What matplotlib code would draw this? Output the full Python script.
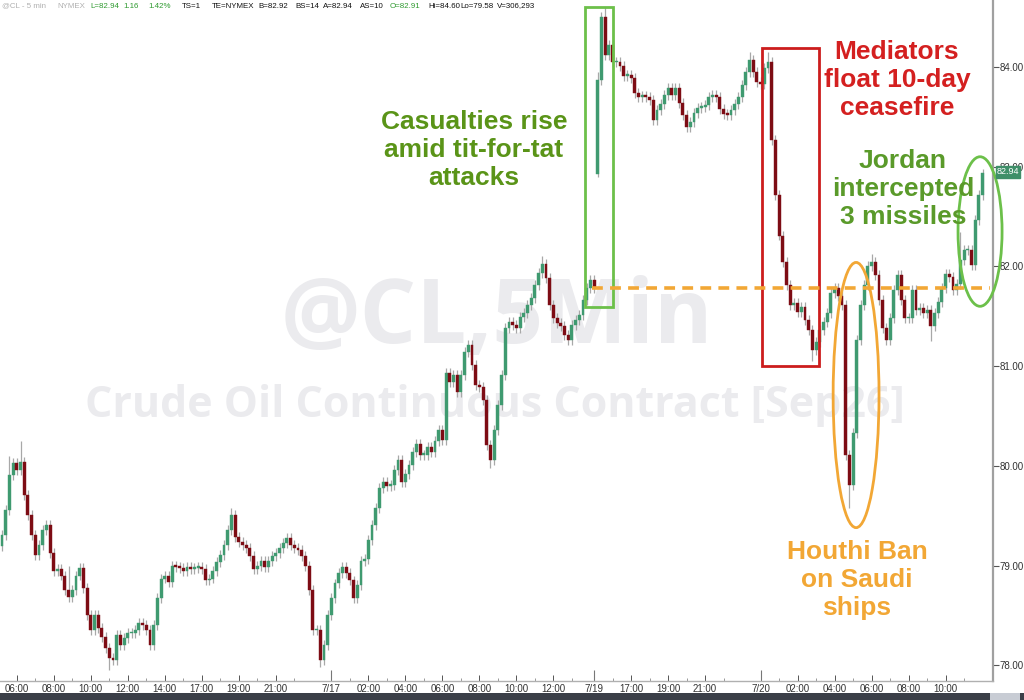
import matplotlib
matplotlib.use("Agg")
import matplotlib.pyplot as plt
from matplotlib.patches import Rectangle, Ellipse
import numpy as np

# ---------------- data ----------------
closes = [
    79.31, 79.56, 79.91, 80.03, 79.96, 80.04, 79.71, 79.51, 79.31, 79.11,
    79.21, 79.36, 79.41, 79.13, 78.95, 78.97, 78.90, 78.75, 78.68, 78.75,
    78.90, 78.98, 78.77, 78.50, 78.35, 78.50, 78.37, 78.28, 78.17, 78.07,
    78.05, 78.30, 78.20, 78.27, 78.32, 78.32, 78.35, 78.42, 78.40, 78.35,
    78.20, 78.40, 78.67, 78.87, 78.90, 78.83, 79.00, 78.99, 78.98, 78.95,
    78.99, 78.97, 78.98, 78.99, 78.97, 78.85, 78.87, 78.95, 79.04, 79.11,
    79.21, 79.36, 79.51, 79.29, 79.24, 79.21, 79.18, 79.10, 78.97, 79.00,
    79.05, 78.99, 79.05, 79.10, 79.13, 79.18, 79.23, 79.28, 79.21, 79.18,
    79.16, 79.10, 79.00, 78.75, 78.35, 78.35, 78.05, 78.20, 78.50, 78.67,
    78.82, 78.93, 78.99, 78.93, 78.85, 78.67, 78.80, 79.05, 79.07, 79.26,
    79.41, 79.58, 79.78, 79.84, 79.80, 79.81, 79.96, 80.06, 79.84, 79.92,
    80.01, 80.14, 80.22, 80.11, 80.11, 80.19, 80.14, 80.25, 80.36, 80.26,
    80.93, 80.84, 80.91, 80.74, 80.91, 81.14, 81.21, 81.01, 80.81, 80.79,
    80.66, 80.21, 80.06, 80.36, 80.61, 80.91, 81.38, 81.44, 81.41, 81.38,
    81.49, 81.53, 81.61, 81.68, 81.81, 81.93, 82.02, 81.88, 81.61, 81.48,
    81.43, 81.40, 81.31, 81.26, 81.41, 81.46, 81.51, 81.66, 81.78, 81.86,
    81.78, 83.87, 84.50, 84.12, 84.22, 84.05, 84.05, 84.01, 83.91, 83.92,
    83.89, 83.74, 83.70, 83.71, 83.70, 83.67, 83.47, 83.57, 83.63, 83.72,
    83.79, 83.72, 83.79, 83.64, 83.52, 83.40, 83.45, 83.54, 83.59, 83.60,
    83.62, 83.70, 83.72, 83.70, 83.58, 83.53, 83.52, 83.57, 83.63, 83.70,
    83.82, 83.95, 84.07, 83.95, 83.85, 83.83, 83.99, 84.05, 83.27, 82.72,
    82.31, 82.04, 81.81, 81.61, 81.63, 81.54, 81.59, 81.46, 81.36, 81.16,
    81.24, 81.36, 81.44, 81.53, 81.73, 81.78, 81.70, 81.61, 80.11, 79.81,
    80.33, 81.26, 81.61, 81.81, 82.00, 82.04, 81.91, 81.66, 81.38, 81.26,
    81.48, 81.76, 81.91, 81.66, 81.48, 81.48, 81.76, 81.56, 81.58, 81.53,
    81.56, 81.40, 81.53, 81.64, 81.78, 81.92, 81.89, 81.76, 81.82, 82.06,
    82.16, 82.16, 82.01, 82.47, 82.72, 82.94,
]
first_open = 79.20
gap_opens = {161: 82.93}               # session gap open on 7/19
wick_highs = {2: 80.10, 5: 80.25, 18: 79.00, 62: 79.58, 83: 79.05, 146: 82.10,
              161: 83.95, 163: 84.60, 202: 84.15, 207: 84.15, 235: 82.12,
              259: 82.35, 265: 82.98}
wick_lows = {29: 77.95, 86: 77.98, 132: 79.98, 161: 82.90, 219: 81.05,
             229: 79.58, 251: 81.25}
wick_pad = 0.05

tick_pos = [4, 14, 24, 34, 44, 54, 64, 74, 89, 99, 109, 119, 129, 139, 149,
            160, 170, 180, 190, 205, 215, 225, 235, 245, 255]
tick_lbl = ["06:00", "08:00", "10:00", "12:00", "14:00", "17:00", "19:00",
            "21:00", "7/17", "02:00", "04:00", "06:00", "08:00", "10:00",
            "12:00", "7/19", "17:00", "19:00", "21:00", "7/20", "02:00",
            "04:00", "06:00", "08:00", "10:00"]
day_ticks = [89, 160, 205]
y_ticks = [78, 79, 80, 81, 82, 83, 84]
last_price = 82.94
ref_level = 81.78

# ---------------- figure ----------------
W, H = 1024, 700
fig = plt.figure(figsize=(W / 100, H / 100), dpi=100)
fig.patch.set_facecolor("white")

def px2fx(x):
    return x / W

def py2fy(y):
    return 1 - y / H

ax = fig.add_axes([0, py2fy(681), px2fx(993), py2fy(0) - py2fy(681)])
ax.set_facecolor("white")

n = len(closes)
idx = np.arange(n)
opens = []
for i in range(n):
    if i in gap_opens:
        opens.append(gap_opens[i])
    elif i == 0:
        opens.append(first_open)
    else:
        opens.append(closes[i - 1])
opens = np.array(opens)
cl = np.array(closes)
hi = np.maximum(opens, cl) + wick_pad
lo = np.minimum(opens, cl) - wick_pad
for k, v in wick_highs.items():
    hi[k] = v
for k, v in wick_lows.items():
    lo[k] = v

up_col = "#3f9a70"
dn_col = "#7d0c14"
ax.vlines(idx, lo, hi, color="#a8a8a8", lw=0.9, zorder=2)
body_bot = np.minimum(opens, cl)
body_h = np.maximum(np.abs(cl - opens), 0.015)
cols = [up_col if c >= o else dn_col for o, c in zip(opens, cl)]
ax.bar(idx, body_h, bottom=body_bot, width=0.78, color=cols, edgecolor=cols,
       linewidth=0.3, zorder=3)

ax.set_xlim(-0.54, 267.8)
ax.set_ylim(77.842, 84.672)

# watermark (inside the axes, behind the candles)
wm = "#ebebee"
ax.text(px2fx(497), py2fy(320), "@CL,5Min", fontsize=64,
        color=wm, ha="center", va="center", fontweight="bold",
        family="Open Sans", transform=fig.transFigure, zorder=0.5)
ax.text(px2fx(495), py2fy(405), "Crude Oil Continuous Contract [Sep26]",
        fontsize=31, color=wm, ha="center", transform=fig.transFigure,
        va="center", fontweight="bold", family="Open Sans", zorder=0.5)

# annotations
ax.add_patch(Rectangle((157.6, 81.59), 7.5, 84.60 - 81.59, fill=False,
                       edgecolor="#6cc04a", lw=2, zorder=4))
ax.add_patch(Rectangle((205.4, 81.00), 15.4, 84.19 - 81.00, fill=False,
                       edgecolor="#cc1d1d", lw=2, zorder=4))
ax.add_patch(Ellipse((230.8, 80.71), 12.4, 2.66, fill=False,
                     edgecolor="#f2a735", lw=2, zorder=4))
ax.add_patch(Ellipse((264.3, 82.35), 11.9, 1.50, fill=False,
                     edgecolor="#6cc04a", lw=2, zorder=4, clip_on=False))
ax.hlines(ref_level, 159.5, 267.0, colors="#f2a735", linestyles=(0, (3, 2)),
          lw=2.6, zorder=4)

tf = dict(family="Liberation Sans", fontweight="bold", fontsize=19,
          ha="center", va="center", linespacing=1.22, zorder=5)
fig.text(px2fx(474), py2fy(150), "Casualties rise\namid tit-for-tat\nattacks",
         color="#5a9418", **tf)
fig.text(px2fx(897), py2fy(80), "Mediators\nfloat 10-day\nceasefire",
         color="#d42020", **tf)
fig.text(px2fx(903), py2fy(189), "Jordan\nintercepted\n3 missiles",
         color="#5a9a2a", **tf)
fig.text(px2fx(857), py2fy(580), "Houthi Ban\non Saudi\nships",
         color="#f2a735", **tf)

# axes styling
for s in ["top", "left"]:
    ax.spines[s].set_visible(False)
ax.spines["right"].set_color("#a0a0a0")
ax.spines["right"].set_linewidth(1.6)
ax.spines["bottom"].set_color("#b0b0b0")
ax.spines["bottom"].set_linewidth(1.0)
ax.yaxis.tick_right()
ax.set_yticks(y_ticks)
ax.set_yticklabels([f"{v:.2f}" for v in y_ticks])
ax.tick_params(axis="y", direction="out", length=4, width=0.8, colors="#555555",
               labelsize=7, pad=1)
ax.set_xticks(tick_pos)
ax.set_xticklabels(tick_lbl)
ax.set_xticks([p + 5 for p in tick_pos], minor=True)
ax.tick_params(axis="x", which="major", direction="in", length=4, width=0.7,
               colors="#555555", labelsize=7, pad=2)
ax.tick_params(axis="x", which="minor", direction="in", length=2, width=0.6,
               colors="#888888")
for lab in ax.get_xticklabels() + ax.get_yticklabels():
    lab.set_color("#333333")
    lab.set_family("Liberation Sans")
ax.vlines(day_ticks, 77.842, 77.95, colors="#777777", lw=0.8, zorder=2)

# last price tag
fig.text(px2fx(1008), py2fy(172), f"{last_price:.2f}", fontsize=6.5,
         color="white", ha="center", va="center", family="Liberation Sans",
         bbox=dict(boxstyle="square,pad=0.12", fc="#3f8f69", ec="#3f8f69"))

# bottom dark bar
fig.patches.append(Rectangle((0, 0), 1, 7 / H, transform=fig.transFigure,
                             fc="#3b3f48", ec="none"))
fig.patches.append(Rectangle((px2fx(990), 0), px2fx(30), 7 / H,
                             transform=fig.transFigure, fc="#c8ccd4", ec="none"))

# header
hdr = [(2, "@CL - 5 min", "#b0b0b0"), (57, "NYMEX", "#b0b0b0"),
       (90, "L=82.94", "#2f9a30"), (123, "1.16", "#2f9a30"),
       (148, "1.42%", "#2f9a30"), (182, "TS=1", "#111111"),
       (212, "TE=NYMEX", "#111111"), (258, "B=82.92", "#111111"),
       (295, "BS=14", "#111111"), (323, "A=82.94", "#111111"),
       (360, "AS=10", "#111111"), (390, "O=82.91", "#2f9a30"),
       (428, "Hi=84.60", "#111111"), (460, "Lo=79.58", "#111111"),
       (497, "V=306,293", "#111111")]
for x, t, c in hdr:
    fig.text(px2fx(x), py2fy(6), t, fontsize=5.7, color=c, ha="left",
             va="center", family="Liberation Sans")

fig.savefig("out.png", dpi=100, facecolor="white")
